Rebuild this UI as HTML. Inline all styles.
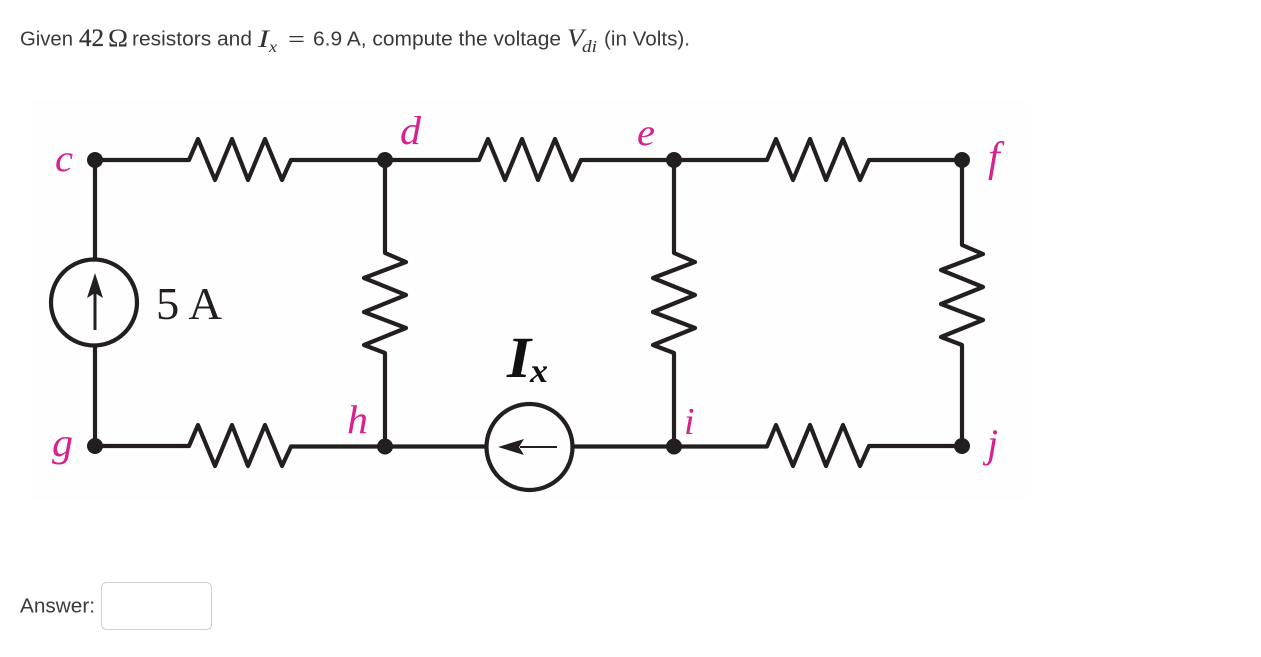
<!DOCTYPE html>
<html><head><meta charset="utf-8"><style>
html,body{margin:0;padding:0;background:#fff;width:1261px;height:657px;overflow:hidden}
svg{display:block}
.t{font-family:"Liberation Sans",sans-serif;font-size:20px;fill:#3a3a3a}
.m{font-family:"Liberation Serif",serif;fill:#333}
.l{font-family:"Liberation Serif",serif;font-style:italic;fill:#d6218f}
.w{fill:none;stroke:#231f20;stroke-width:4.200;stroke-linejoin:round}
</style></head><body>
<svg width="1261" height="657" viewBox="0 0 1261 657" xmlns="http://www.w3.org/2000/svg">
<rect x="30" y="100" width="1000" height="400" fill="#fefefe"/>
<text class="t" x="20" y="45.500" textLength="53" lengthAdjust="spacingAndGlyphs">Given</text>
<text class="m" x="79" y="46" font-size="25" stroke="#333" stroke-width="0.300" textLength="25" lengthAdjust="spacingAndGlyphs">42</text>
<text class="m" x="108" y="46" font-size="25" textLength="20" lengthAdjust="spacingAndGlyphs">Ω</text>
<text class="t" x="132" y="45.500" textLength="120" lengthAdjust="spacingAndGlyphs">resistors and</text>
<text class="m" x="258" y="47" font-size="25" font-style="italic" textLength="11" lengthAdjust="spacingAndGlyphs">I</text>
<text class="m" x="269" y="52" font-size="16" font-style="italic" textLength="8" lengthAdjust="spacingAndGlyphs">x</text>
<text class="m" x="288" y="47" font-size="24" textLength="17" lengthAdjust="spacingAndGlyphs">=</text>
<text class="t" x="313" y="45.500" textLength="248" lengthAdjust="spacingAndGlyphs">6.9 A, compute the voltage</text>
<text class="m" x="567" y="46" font-size="25" font-style="italic" textLength="17" lengthAdjust="spacingAndGlyphs">V</text>
<text class="m" x="582" y="52" font-size="17" font-style="italic" textLength="15" lengthAdjust="spacingAndGlyphs">di</text>
<text class="t" x="604" y="45.500" textLength="86" lengthAdjust="spacingAndGlyphs">(in Volts).</text>

<g class="w">
<path d="M95 160H189L198 139L215 180L232 139L248 180L265 139L282 180L291 160H385"/>
<path d="M385 160H479L488 139L505 180L522 139L538 180L555 139L572 180L581 160H674"/>
<path d="M674 160H767L776 139L793 180L810 139L826 180L843 139L860 180L869 160H962"/>
<path d="M95 446H189L198 425L215 466L232 425L248 466L265 425L282 466L291 446.500H385"/>
<path d="M674 446.500H767L776 425L793 466L810 425L826 466L843 425L860 466L869 446H962"/>
<path d="M385 446.500H487M572 446.500H674"/>
<path d="M95 160V260M95 345V446"/>
<path d="M385 160V253L406 262L364 278L406 295L364 312L406 328L364 345L385 353V446"/>
<path d="M674 160V253L695 262L653 278L695 295L653 312L695 328L653 345L674 353V446"/>
<path d="M962 160V245L983 254L941 270L983 287L941 304L983 320L941 337L962 345V446"/>
<circle cx="94" cy="302.500" r="43"/>
<circle cx="529.500" cy="447" r="43"/>
</g>
<path d="M95 330V290" stroke="#231f20" stroke-width="3"/>
<path d="M95 273L103 298L95 293L87 298Z" fill="#231f20"/>
<path d="M557 447H520" stroke="#231f20" stroke-width="2"/>
<path d="M498 447L524 439L519 447L524 455Z" fill="#231f20"/>
<g fill="#231f20">
<circle cx="95" cy="160" r="8"/><circle cx="385" cy="160" r="8"/><circle cx="674" cy="160" r="8"/><circle cx="962" cy="160" r="8"/>
<circle cx="95" cy="446" r="8"/><circle cx="385" cy="446.500" r="8"/><circle cx="674" cy="446.500" r="8"/><circle cx="962" cy="446" r="8"/>
</g>
<text class="l" x="55" y="171" font-size="38" textLength="18" lengthAdjust="spacingAndGlyphs">c</text>
<text class="l" x="400" y="144" font-size="40" textLength="21" lengthAdjust="spacingAndGlyphs">d</text>
<text class="l" x="637" y="145" font-size="38" textLength="18" lengthAdjust="spacingAndGlyphs">e</text>
<text class="l" x="988" y="171" font-size="42">f</text>
<text class="l" x="52" y="456" font-size="40" textLength="21" lengthAdjust="spacingAndGlyphs">g</text>
<text class="l" x="347" y="433" font-size="40" textLength="21" lengthAdjust="spacingAndGlyphs">h</text>
<text class="l" x="684" y="434" font-size="38">i</text>
<text class="l" x="987" y="457" font-size="40">j</text>
<text x="156" y="319" font-family="Liberation Serif,serif" font-size="46" fill="#231f20" textLength="66" lengthAdjust="spacingAndGlyphs">5 A</text>
<text x="507" y="377" font-family="Liberation Serif,serif" font-size="58" font-style="italic" font-weight="bold" fill="#111" textLength="24" lengthAdjust="spacingAndGlyphs">I</text>
<text x="530" y="382" font-family="Liberation Serif,serif" font-size="34" font-style="italic" font-weight="bold" fill="#111" textLength="18" lengthAdjust="spacingAndGlyphs">x</text>
<text class="t" x="20" y="612.500" textLength="75" lengthAdjust="spacingAndGlyphs">Answer:</text>
<rect x="101.500" y="582.500" width="110" height="47" rx="5" fill="#fff" stroke="#cfcfcf"/>
</svg>
</body></html>
